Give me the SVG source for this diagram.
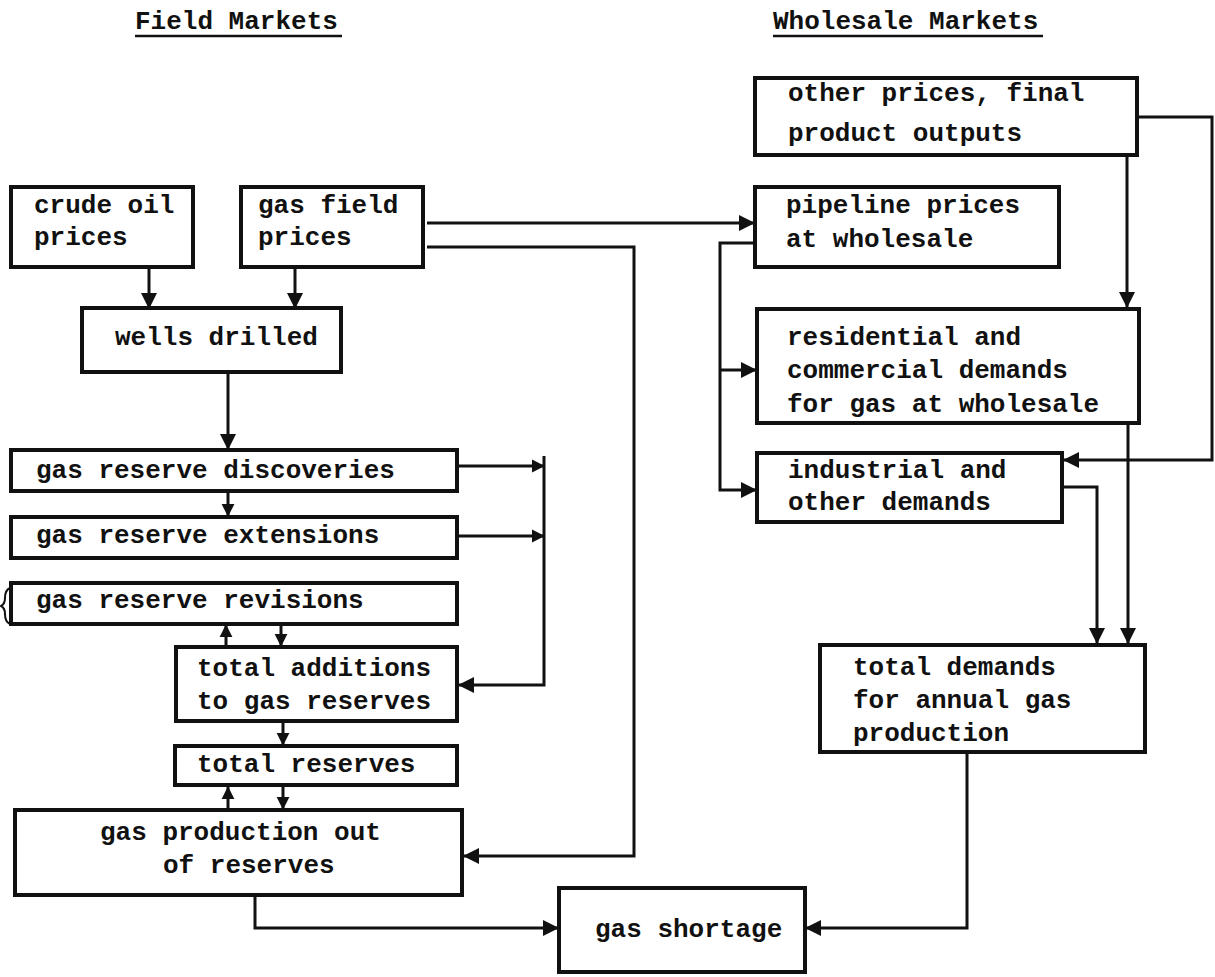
<svg xmlns="http://www.w3.org/2000/svg" width="1215" height="977" viewBox="0 0 1215 977">
  <defs>
    <style>
      .box { fill: none; stroke: #111; stroke-width: 4; stroke-linejoin: miter; }
      .c { fill: none; stroke: #111; stroke-width: 3; }
      .t { font-family: "Liberation Mono", "DejaVu Sans Mono", monospace; font-size: 26px; font-weight: bold; fill: #111; }
      .h { font-family: "Liberation Mono", "DejaVu Sans Mono", monospace; font-size: 26px; font-weight: bold; fill: #111; }
      .ul { stroke: #111; stroke-width: 2.5; }
    </style>
    <marker id="ah" viewBox="0 0 16 16" refX="15" refY="8" markerWidth="16" markerHeight="16" markerUnits="userSpaceOnUse" orient="auto">
      <path d="M0,0 L16,8 L0,16 z" fill="#111"/>
    </marker>
    <marker id="ahs" viewBox="0 0 16 16" refX="15" refY="8" markerWidth="13" markerHeight="14" markerUnits="userSpaceOnUse" orient="auto">
      <path d="M0,0 L16,8 L0,16 z" fill="#111"/>
    </marker>
  </defs>

  <rect x="0" y="0" width="1215" height="977" fill="#fff"/>

  <!-- column headings -->
  <g id="headings">
    <text class="h" x="135" y="29">Field Markets</text>
    <line class="ul" x1="135" y1="36" x2="342" y2="36"/>
    <text class="h" x="773" y="29">Wholesale Markets</text>
    <line class="ul" x1="773" y1="36" x2="1043" y2="36"/>
  </g>

  <!-- connectors -->
  <g id="connectors">
    <path class="c" d="M149,269 V308" marker-end="url(#ah)"/>
    <path class="c" d="M295,269 V308" marker-end="url(#ah)"/>
    <path class="c" d="M228,374 V449" marker-end="url(#ah)"/>
    <path class="c" d="M228,493 V516" marker-end="url(#ahs)"/>
    <path class="c" d="M427,223 H754" marker-end="url(#ah)"/>
    <path class="c" d="M427,247 H634 V856 H464" marker-end="url(#ah)"/>
    <path class="c" d="M459,466 H544" marker-end="url(#ahs)"/>
    <path class="c" d="M459,536 H544" marker-end="url(#ahs)"/>
    <path class="c" d="M544,456 V685 H459" marker-end="url(#ah)"/>
    <path class="c" d="M226,647 V625" marker-end="url(#ahs)"/>
    <path class="c" d="M281,626 V646" marker-end="url(#ahs)"/>
    <path class="c" d="M283,723 V745" marker-end="url(#ahs)"/>
    <path class="c" d="M228,808 V787" marker-end="url(#ahs)"/>
    <path class="c" d="M283,787 V809" marker-end="url(#ahs)"/>
    <path class="c" d="M255,897 V928 H558" marker-end="url(#ah)"/>
    <path class="c" d="M967,754 V928 H806" marker-end="url(#ah)"/>
    <path class="c" d="M1127,157 V307" marker-end="url(#ah)"/>
    <path class="c" d="M1139,117 H1212 V460 H1064" marker-end="url(#ah)"/>
    <path class="c" d="M753,243 H720 V490 H756" marker-end="url(#ah)"/>
    <path class="c" d="M720,370 H756" marker-end="url(#ah)"/>
    <path class="c" d="M1128,425 V643" marker-end="url(#ah)"/>
    <path class="c" d="M1064,487 H1097 V643" marker-end="url(#ah)"/>
  </g>

  <!-- nodes -->
  <g id="other-prices">
    <rect class="box" x="755" y="78" width="382" height="77"/>
    <text class="t" x="788" y="101">other prices, final</text>
    <text class="t" x="788" y="141">product outputs</text>
  </g>
  <g id="crude-oil-prices">
    <rect class="box" x="11" y="187" width="182" height="80"/>
    <text class="t" x="34" y="213">crude oil</text>
    <text class="t" x="34" y="245">prices</text>
  </g>
  <g id="gas-field-prices">
    <rect class="box" x="241" y="187" width="182" height="80"/>
    <text class="t" x="258" y="213">gas field</text>
    <text class="t" x="258" y="245">prices</text>
  </g>
  <g id="pipeline-prices">
    <rect class="box" x="755" y="187" width="304" height="80"/>
    <text class="t" x="786" y="213">pipeline prices</text>
    <text class="t" x="786" y="247">at wholesale</text>
  </g>
  <g id="wells-drilled">
    <rect class="box" x="82" y="308" width="259" height="64"/>
    <text class="t" x="115" y="345">wells drilled</text>
  </g>
  <g id="residential-commercial">
    <rect class="box" x="757" y="309" width="382" height="114"/>
    <text class="t" x="787" y="345">residential and</text>
    <text class="t" x="787" y="378">commercial demands</text>
    <text class="t" x="787" y="412">for gas at wholesale</text>
  </g>
  <g id="discoveries">
    <rect class="box" x="11" y="450" width="446" height="41"/>
    <text class="t" x="36" y="478">gas reserve discoveries</text>
  </g>
  <g id="industrial">
    <rect class="box" x="757" y="453" width="305" height="69"/>
    <text class="t" x="788" y="478">industrial and</text>
    <text class="t" x="788" y="510">other demands</text>
  </g>
  <g id="extensions">
    <rect class="box" x="11" y="517" width="446" height="41"/>
    <text class="t" x="36" y="543">gas reserve extensions</text>
  </g>
  <g id="revisions">
    <rect class="box" x="11" y="583" width="446" height="41"/>
    <text class="t" x="36" y="608">gas reserve revisions</text>
    <path d="M10,588 q-5,2 -5,10 q0,6 -4,8 q4,2 4,8 q0,8 5,10" fill="none" stroke="#111" stroke-width="2"/>
  </g>
  <g id="total-additions">
    <rect class="box" x="176" y="647" width="281" height="74"/>
    <text class="t" x="197" y="676">total additions</text>
    <text class="t" x="197" y="709">to gas reserves</text>
  </g>
  <g id="total-demands">
    <rect class="box" x="820" y="645" width="325" height="107"/>
    <text class="t" x="853" y="675">total demands</text>
    <text class="t" x="853" y="708">for annual gas</text>
    <text class="t" x="853" y="741">production</text>
  </g>
  <g id="total-reserves">
    <rect class="box" x="175" y="746" width="282" height="39"/>
    <text class="t" x="197" y="772">total reserves</text>
  </g>
  <g id="gas-production">
    <rect class="box" x="15" y="810" width="447" height="85"/>
    <text class="t" x="100" y="840">gas production out</text>
    <text class="t" x="163" y="873">of reserves</text>
  </g>
  <g id="gas-shortage">
    <rect class="box" x="559" y="888" width="246" height="84"/>
    <text class="t" x="595" y="937">gas shortage</text>
  </g>
</svg>
